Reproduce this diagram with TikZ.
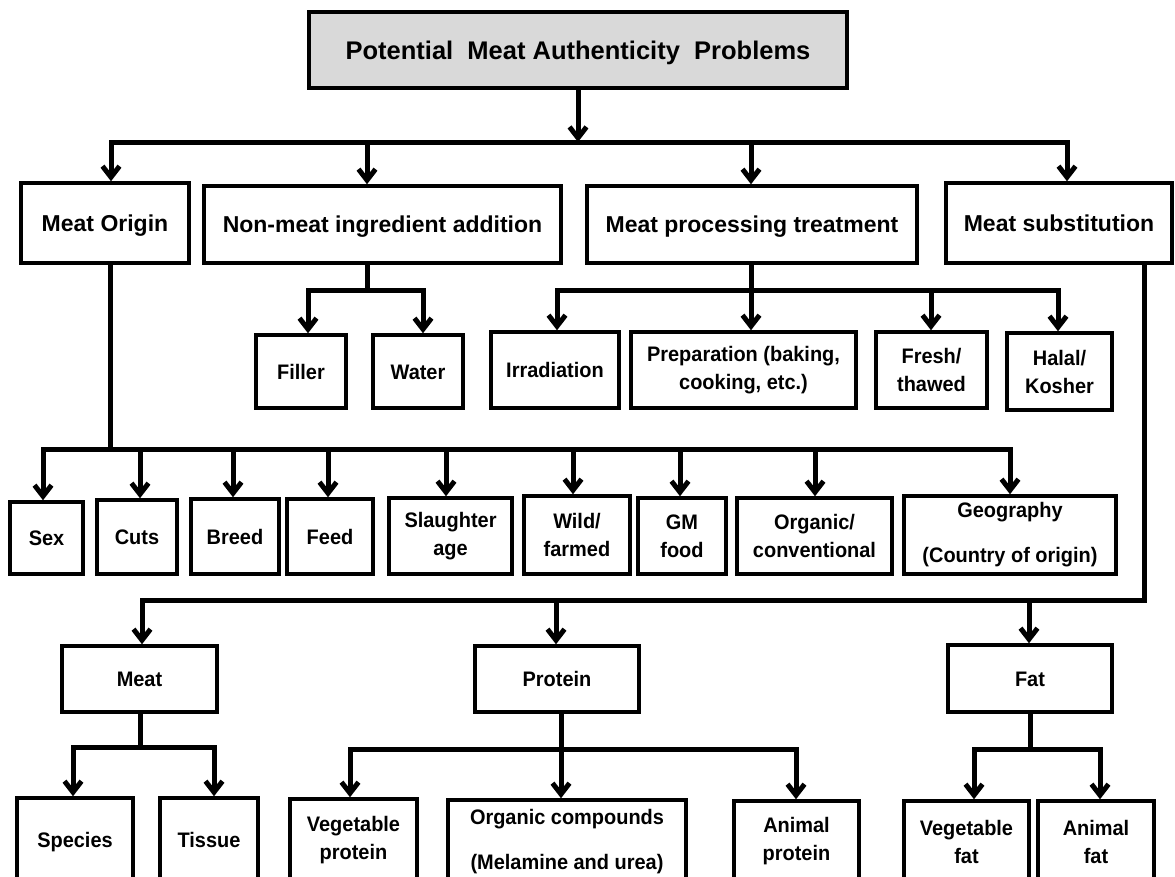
\documentclass[tikz,border=0pt]{standalone}
\usepackage{fontspec}
\setmainfont{Liberation Sans}
% slightly condensed face for the smaller box labels
\newfontfamily\boxfont{Liberation Sans}[FakeStretch=0.95]
\usetikzlibrary{arrows.meta,shadows}

\tikzset{
  box/.style={draw, line width=3.5pt, fill=white, align=center, inner sep=0pt,
    font=\boxfont\bfseries\fontsize{21}{28}\selectfont,
    drop shadow={shadow xshift=1.5pt, shadow yshift=-1.5pt, opacity=.3}},
  % single-line labels: centre the capitals in the box
  oneline/.style={text height=15pt, text depth=0pt},
  headbox/.style={box, font=\rmfamily\bfseries\fontsize{23}{27}\selectfont,
    text height=16.5pt, text depth=0pt},
  wh/.style 2 args={minimum width=#1pt, minimum height=#2pt},
  conn/.style={line width=5pt, line cap=rect},
  arr/.style={line width=5pt, -{Straight Barb[length=11pt,width=17pt]}},
}

\begin{document}
\begin{tikzpicture}[x=1pt,y=-1pt]
\useasboundingbox (0,0) rectangle (1175,876);
\clip (0,0) rectangle (1175,876);

% ---------- title ----------
\node[box, wh={538}{76}, fill={rgb,255:red,217;green,217;blue,217},
      font=\rmfamily\bfseries\fontsize{25.5}{30}\selectfont,
      text height=18.3pt, text depth=0pt] (title) at (578,50)
      {Potential\ \ Meat Authenticity\ \ Problems};

% ---------- main categories ----------
\node[headbox, wh={168}{80}] (origin) at (105,223) {Meat Origin};
\node[headbox, wh={357}{77}] (nonmeat) at (382.5,224.5) {Non-meat ingredient addition};
\node[headbox, wh={330}{77}] (process) at (752,224.5) {Meat processing treatment};
\node[headbox, wh={226}{80}] (subst) at (1059,223) {Meat substitution};

% ---------- non-meat ingredients ----------
\node[box, oneline, wh={90}{73}] (filler) at (301,371.5) {Filler};
\node[box, oneline, wh={90}{73}] (water) at (418,371.5) {Water};

% ---------- processing treatments ----------
\node[box, oneline, wh={128}{76}] (irrad) at (555,370) {Irradiation};
\node[box, wh={225}{76}] (prep) at (743.5,370) {Preparation (baking,\\cooking, etc.)};
\node[box, wh={111}{76}] (fresh) at (931.5,370) {Fresh/\\thawed};
\node[box, wh={105}{77}] (halal) at (1059.5,371.5) {Halal/\\Kosher};

% ---------- origin aspects ----------
\node[box, oneline, wh={73}{72}] (sex) at (46.5,538) {Sex};
\node[box, oneline, wh={80}{74}] (cuts) at (137,537) {Cuts};
\node[box, oneline, wh={88}{75}] (breed) at (235,536.5) {Breed};
\node[box, oneline, wh={86}{75}] (feed) at (330,536.5) {Feed};
\node[box, wh={123}{76}] (slaughter) at (450.5,536) {Slaughter\\age};
\node[box, wh={106}{78}] (wild) at (577,535) {Wild/\\farmed};
\node[box, wh={88}{76}] (gm) at (682,536) {GM\\food};
\node[box, wh={155}{76}] (organic) at (814.5,536) {Organic/\\conventional};
\node[box, wh={212}{78}] (geo) at (1010,535) {Geography\\[17pt](Country of origin)};

% ---------- substitution types ----------
\node[box, oneline, wh={155}{66}] (meat) at (139.5,679) {Meat};
\node[box, oneline, wh={164}{66}] (protein) at (557,679) {Protein};
\node[box, oneline, wh={164}{67}] (fat) at (1030,678.5) {Fat};

% ---------- substitutes ----------
\node[box, oneline, wh={116}{83}] (species) at (75,839.5) {Species};
\node[box, oneline, wh={98}{83}] (tissue) at (209,839.5) {Tissue};
\node[box, wh={127}{83}] (vegprot) at (353.5,840.5) {Vegetable\\protein};
\node[box, wh={238}{83}] (orgcomp) at (567,841.5) {Organic compounds\\[17pt](Melamine and urea)};
\node[box, wh={125}{81}] (aniprot) at (796.5,841.5) {Animal\\protein};
\node[box, wh={125}{81}] (vegfat) at (966.5,841.5) {Vegetable\\fat};
\node[box, wh={116}{81}] (anifat) at (1096,841.5) {Animal\\fat};

% ---------- junction points ----------
\coordinate (t0) at (578,142);
\coordinate (t-origin) at (111,142);
\coordinate (t-nonmeat) at (367,142);
\coordinate (t-process) at (751,142);
\coordinate (t-subst) at (1067,142);

\coordinate (n0) at (367,290);
\coordinate (n-filler) at (308,290);
\coordinate (n-water) at (423,290);

\coordinate (p0) at (751,290);
\coordinate (p-irrad) at (557,290);
\coordinate (p-fresh) at (931,290);
\coordinate (p-halal) at (1058,290);

\coordinate (o0) at (110,449);
\coordinate (o-sex) at (43,449);
\coordinate (o-cuts) at (140,449);
\coordinate (o-breed) at (233,449);
\coordinate (o-feed) at (328,449);
\coordinate (o-slaughter) at (446,449);
\coordinate (o-wild) at (573,449);
\coordinate (o-gm) at (680,449);
\coordinate (o-organic) at (815,449);
\coordinate (o-geo) at (1010,449);

\coordinate (s0) at (1144,600);
\coordinate (s-meat) at (142,600);
\coordinate (s-protein) at (556,600);
\coordinate (s-fat) at (1029,600);

\coordinate (m0) at (140,747);
\coordinate (m-species) at (73,747);
\coordinate (m-tissue) at (214,747);

\coordinate (r0) at (561,749);
\coordinate (r-veg) at (350,749);
\coordinate (r-ani) at (796,749);

\coordinate (f0) at (1030,749);
\coordinate (f-veg) at (974,749);
\coordinate (f-ani) at (1100,749);

% ---------- connectors ----------
\draw[arr] (title.south) -- (t0);
\draw[conn] (t-origin) -- (t-subst);
\foreach \n in {origin,nonmeat,process,subst}
  \draw[arr] (t-\n) -- (t-\n |- \n.north);

\draw[conn] (nonmeat.south -| n0) -- (n0);
\draw[conn] (n-filler) -- (n-water);
\draw[arr] (n-filler) -- (n-filler |- filler.north);
\draw[arr] (n-water) -- (n-water |- water.north);

\draw[conn] (process.south -| p0) -- (p0);
\draw[conn] (p-irrad) -- (p-halal);
\draw[arr] (p-irrad) -- (p-irrad |- irrad.north);
\draw[arr] (p0) -- (p0 |- prep.north);
\draw[arr] (p-fresh) -- (p-fresh |- fresh.north);
\draw[arr] (p-halal) -- (p-halal |- halal.north);

\draw[conn] (origin.south -| o0) -- (o0);
\draw[conn] (o-sex) -- (o-geo);
\foreach \n in {sex,cuts,breed,feed,slaughter,wild,gm,organic,geo}
  \draw[arr] (o-\n) -- (o-\n |- \n.north);

\draw[conn] (subst.south -| s0) -- (s0) -- (s-meat);
\foreach \n in {meat,protein,fat}
  \draw[arr] (s-\n) -- (s-\n |- \n.north);

\draw[conn] (meat.south -| m0) -- (m0);
\draw[conn] (m-species) -- (m-tissue);
\draw[arr] (m-species) -- (m-species |- species.north);
\draw[arr] (m-tissue) -- (m-tissue |- tissue.north);

\draw[conn] (protein.south -| r0) -- (r0);
\draw[conn] (r-veg) -- (r-ani);
\draw[arr] (r-veg) -- (r-veg |- vegprot.north);
\draw[arr] (r0) -- (r0 |- orgcomp.north);
\draw[arr] (r-ani) -- (r-ani |- aniprot.north);

\draw[conn] (fat.south -| f0) -- (f0);
\draw[conn] (f-veg) -- (f-ani);
\draw[arr] (f-veg) -- (f-veg |- vegfat.north);
\draw[arr] (f-ani) -- (f-ani |- anifat.north);
\end{tikzpicture}
\end{document}
